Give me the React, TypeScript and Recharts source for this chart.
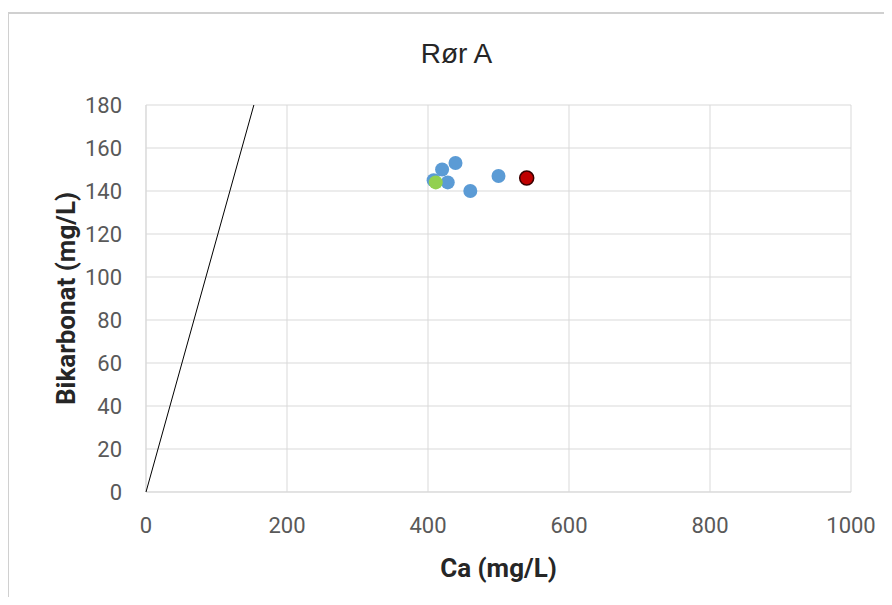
import React from "react";
import {
  ScatterChart,
  Scatter,
  XAxis,
  YAxis,
  CartesianGrid,
} from "recharts";

// Ca (mg/L) vs bikarbonat (mg/L), Rør A
const blueCa = [408, 420, 439, 428, 460, 500];
const blueHco3 = [145, 150, 153, 144, 140, 147];
const greenCa = [411];
const greenHco3 = [144];
const redCa = [540];
const redHco3 = [146];
const lineCa = [0, 153];
const lineHco3 = [0, 180];

const xTicks = [0, 200, 400, 600, 800, 1000];
const yTicks = [0, 20, 40, 60, 80, 100, 120, 140, 160, 180];

const toPoints = (xs: number[], ys: number[]) =>
  xs.map((x, i) => ({ ca: x, hco3: ys[i] }));

const GRID = "#d9d9d9";
const TICK = { fill: "#595959", fontSize: 22, fontFamily: "Roboto, sans-serif" };

function dot(fill: string, stroke?: string) {
  return (props: any) => (
    <circle
      cx={props.cx}
      cy={props.cy}
      r={7}
      fill={fill}
      stroke={stroke ?? "none"}
      strokeWidth={stroke ? 1.5 : 0}
    />
  );
}

export default function App() {
  return (
    <div
      style={{
        position: "relative",
        margin: -8,
        width: 892,
        height: 605,
        overflow: "hidden",
        background: "#fff",
      }}
    >
      <div
        style={{
          position: "absolute",
          left: 7,
          top: 12,
          width: 900,
          height: 589,
          border: "2px solid #d0d0d0",
        }}
      />
      <div
        style={{
          position: "absolute",
          left: 0,
          width: 913,
          top: 38,
          textAlign: "center",
          fontFamily: "'Liberation Sans', Arial, sans-serif",
          fontSize: 28,
          color: "#262626",
        }}
      >
        Rør A
      </div>
      <div style={{ position: "absolute", left: 0, top: 0 }}>
        <ScatterChart
          width={892}
          height={605}
          margin={{ top: 105, right: 41, bottom: 0, left: 0 }}
        >
          <CartesianGrid stroke={GRID} />
          <XAxis
            type="number"
            dataKey="ca"
            domain={[0, 1000]}
            ticks={xTicks}
            height={113}
            tick={TICK}
            tickLine={false}
            tickMargin={19}
            axisLine={{ stroke: GRID }}
            label={{
              content: ({ viewBox }: any) => (
                <text
                  x={viewBox.x + viewBox.width / 2}
                  y={577}
                  textAnchor="middle"
                  fontFamily="Roboto, sans-serif"
                  fontWeight="bold"
                  fontSize={26}
                  fill="#262626"
                >
                  Ca (mg/L)
                </text>
              ),
            }}
          />
          <YAxis
            type="number"
            dataKey="hco3"
            domain={[0, 180]}
            ticks={yTicks}
            width={146}
            tick={TICK}
            tickLine={false}
            tickMargin={18}
            axisLine={{ stroke: GRID }}
            label={{
              content: ({ viewBox }: any) => {
                const cy = viewBox.y + viewBox.height / 2;
                return (
                  <text
                    x={75}
                    y={cy}
                    transform={`rotate(-90 75 ${cy})`}
                    textAnchor="middle"
                    fontFamily="Roboto, sans-serif"
                    fontWeight="bold"
                    fontSize={26}
                    fill="#262626"
                  >
                    Bikarbonat (mg/L)
                  </text>
                );
              },
            }}
          />
          <Scatter
            data={toPoints(lineCa, lineHco3)}
            line={{ stroke: "#000", strokeWidth: 1 }}
            shape={() => <g />}
            isAnimationActive={false}
          />
          <Scatter
            data={toPoints(blueCa, blueHco3)}
            shape={dot("#5b9bd5")}
            isAnimationActive={false}
          />
          <Scatter
            data={toPoints(redCa, redHco3)}
            shape={dot("#c00000", "#3a0000")}
            isAnimationActive={false}
          />
          <Scatter
            data={toPoints(greenCa, greenHco3)}
            shape={dot("#92d050")}
            isAnimationActive={false}
          />
        </ScatterChart>
      </div>
    </div>
  );
}
